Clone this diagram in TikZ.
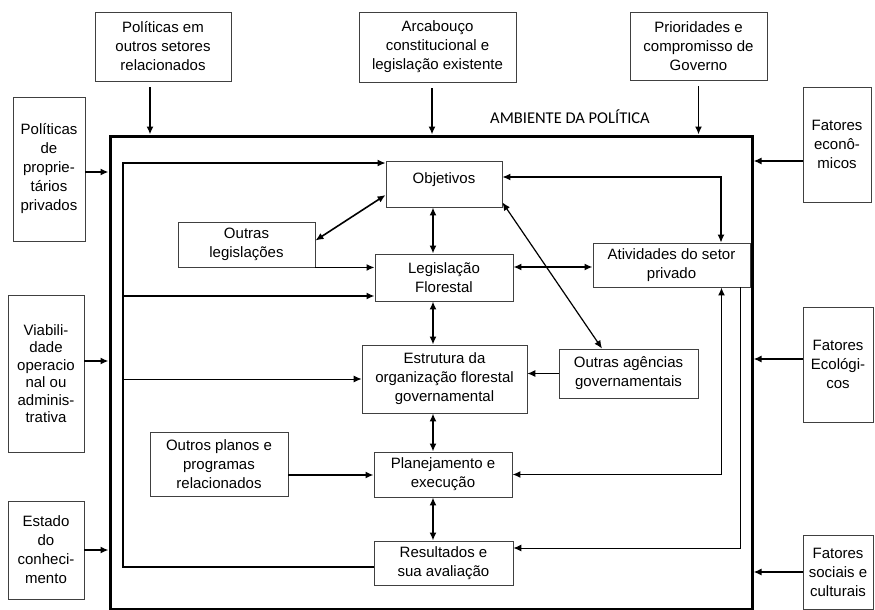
\documentclass[tikz,border=0pt]{standalone}
\usepackage{fontspec}
\setmainfont{Liberation Sans}
\newfontfamily\ambfont{Carlito}
\usepackage{tikz}
\usetikzlibrary{arrows.meta, positioning, calc}
\newcommand{\boxfont}{\fontsize{15}{19}\selectfont}
\tikzstyle{block} = [rectangle, draw=black!75, line width=0.9pt, align=center, inner sep=1pt]
\tikzstyle{frame} = [rectangle, draw=black, line width=3pt, minimum width=642pt, minimum height=473pt]
\tikzstyle{arrow} = [line width=1.6pt, -{Latex[length=8pt, width=7pt]}]
\tikzstyle{dblarrow} = [line width=1.6pt, {Latex[length=8pt, width=7pt]}-{Latex[length=8pt, width=7pt]}]
\tikzstyle{thinarrow} = [line width=1pt, -{Latex[length=8pt, width=7pt]}]

\begin{document}
\begin{tikzpicture}[x=1pt, y=-1pt, every node/.style={font=\boxfont}]
  \useasboundingbox (0,0) rectangle (875,610);
  \node[frame] (amb) at (431,372.5) {};
  \node[font=\ambfont\fontsize{16.5}{20}\selectfont] (ambtxt) at (570,117) {AMBIENTE DA POLÍTICA};

  \node[block, minimum width=136pt, minimum height=69pt] (pol) at (163,46.5) {Políticas em\\outros setores\\relacionados};
  \node[block, minimum width=157pt, minimum height=70pt] (arc) at (437.5,47) {Arcabouço\\constitucional e\\legislação existente};
  \node[block, minimum width=137pt, minimum height=68pt] (pri) at (698.5,46) {Prioridades e\\compromisso de\\Governo};
  \node[block, minimum width=72pt, minimum height=144pt] (prop) at (49,169) {Políticas\\de\\proprie-\\tários\\privados};
  \node[block, minimum width=76pt, minimum height=157pt, font=\fontsize{15}{17.5}\selectfont] (viab) at (46,373.5) {Viabili-\\dade\\operacio\\nal ou\\adminis-\\trativa};
  \node[block, minimum width=76pt, minimum height=98pt] (conh) at (46,550) {Estado\\do\\conheci-\\mento};
  \node[block, minimum width=68pt, minimum height=115pt] (eco) at (837,144.5) {Fatores\\econô-\\micos};
  \node[block, minimum width=70pt, minimum height=115pt] (ecol) at (838,364.5) {Fatores\\Ecológi-\\cos};
  \node[block, minimum width=70pt, minimum height=74pt] (soc) at (838,572) {Fatores\\sociais e\\culturais};

  \node[block, minimum width=116pt, minimum height=46pt] (obj) at (444,184) {\raisebox{12pt}{Objetivos}};
  \node[block, minimum width=138pt, minimum height=47pt] (leg) at (444,277.5) {Legislação\\Florestal};
  \node[block, minimum width=137pt, minimum height=45pt] (outleg) at (246.5,244.5) {Outras\\legislações};
  \node[block, minimum width=165pt, minimum height=68pt] (estr) at (444.5,379) {Estrutura da\\organização florestal\\governamental};
  \node[block, minimum width=138pt, minimum height=45pt] (plan) at (443,474.5) {Planejamento e\\execução};
  \node[block, minimum width=139pt, minimum height=44pt] (res) at (443.5,563) {Resultados e\\sua avaliação};
  \node[block, minimum width=157pt, minimum height=44pt] (ativ) at (671.5,265) {Atividades do setor\\privado};
  \node[block, minimum width=139pt, minimum height=49pt] (ageg) at (628.5,373.5) {Outras agências\\governamentais};
  \node[block, minimum width=138pt, minimum height=64pt] (outpl) at (219,464) {Outros planos e\\programas\\relacionados};

  \draw[arrow] ([xshift=-13pt,yshift=-6pt]pol.south) -- ([xshift=-13pt]pol.south |- amb.north);
  \draw[arrow] ([xshift=-5.5pt,yshift=-6pt]arc.south) -- ([xshift=-5.5pt]arc.south |- amb.north);
  \draw[arrow] ([yshift=-6pt]pri.south) -- (pri.south |- amb.north);
  \draw[arrow] ([yshift=-3pt]prop.east) -- ([yshift=-3pt]prop.east -| amb.west);
  \draw[arrow] ([yshift=12.5pt]viab.east) -- ([yshift=12.5pt]viab.east -| amb.west);
  \draw[arrow] (conh.east) -- (conh.east -| amb.west);
  \draw[arrow] ([yshift=-16.5pt]eco.west) -- ([yshift=-16.5pt]eco.west -| amb.east);
  \draw[arrow] ([yshift=5.5pt]ecol.west) -- ([yshift=5.5pt]ecol.west -| amb.east);
  \draw[arrow] (soc.west) -- (soc.west -| amb.east);

  \coordinate (loopnw) at (123,163);
  \coordinate (loopsw) at (123,567);
  \coordinate (col) at (433,0);
  \draw[arrow, line width=1.3pt] (res.west |- loopsw) -- (loopsw) -- (loopnw) -- (loopnw -| obj.west);
  \draw[arrow] ([yshift=-18.5pt]leg.west -| loopnw) -- ([yshift=-18.5pt]leg.west);
  \draw[thinarrow] (estr.west -| loopnw) -- (estr.west);
  \draw[arrow] (outleg.south east) -- (outleg.south east -| leg.west);
  \draw[dblarrow] ([yshift=4pt]outleg.east) -- ([yshift=-11pt]obj.west);
  \draw[dblarrow] (col |- obj.south) -- (col |- leg.north);
  \draw[dblarrow] (col |- leg.south) -- (col |- estr.north);
  \draw[dblarrow] (col |- estr.south) -- (col |- plan.north);
  \draw[dblarrow] (col |- plan.south) -- (col |- res.north);
  \draw[arrow] ([yshift=-11pt]outpl.east) -- ([yshift=-11pt]outpl.east -| plan.west);
  \draw[dblarrow] ([yshift=10.5pt]leg.east) -- ([yshift=10.5pt]leg.east -| ativ.west);
  \draw[dblarrow, line width=1.2pt] ([yshift=7pt]obj.east) -| ([xshift=49.5pt]ativ.north);
  \draw[dblarrow, line width=1.2pt] ([yshift=5pt]obj.south east) -- ([xshift=-26.5pt]ageg.north);
  \draw[thinarrow] (ageg.west) -- (ageg.west -| estr.east);
  \draw[dblarrow] (plan.east) -| ([xshift=50pt]ativ.south);
  \draw[thinarrow] ([xshift=68.5pt]ativ.south) |- ([yshift=15pt]res.east);
\end{tikzpicture}
\end{document}
